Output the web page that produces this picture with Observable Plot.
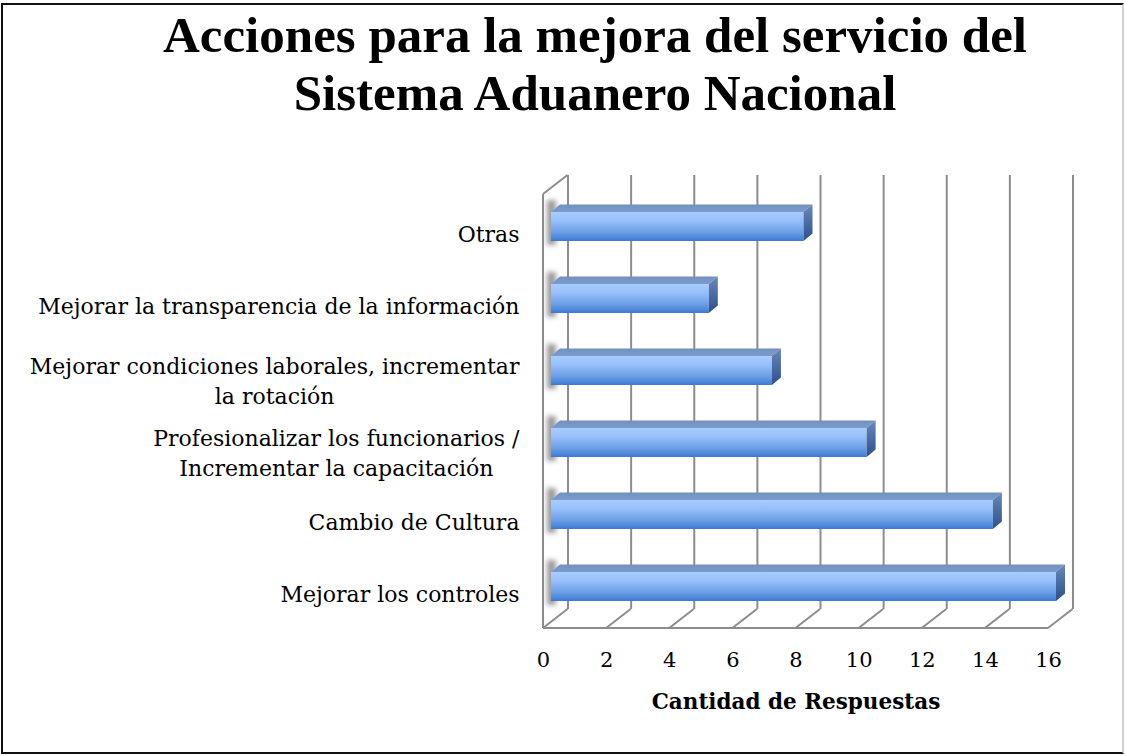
<!DOCTYPE html>
<html><head><meta charset="utf-8">
<script src="https://cdn.jsdelivr.net/npm/d3@7"></script>
<script src="https://cdn.jsdelivr.net/npm/@observablehq/plot@0.6"></script>
<style>
body{margin:0;background:#fff}
#wrap{position:relative;width:1125px;height:755px;overflow:hidden;background:#fff}
#border{position:absolute;left:1px;top:3px;width:1119px;height:747px;border:2px solid #111;border-right-color:#d0d0d0}
#title{position:absolute;left:95px;width:1000px;top:6px;text-align:center;font-weight:bold;font-size:51px;font-family:"Liberation Serif";line-height:58px;color:#000}
#chart{position:absolute;left:0;top:0}
</style></head><body>
<div id="wrap"><div id="border"></div><div id="chart"></div><div id="title"></div></div>
<script>
const titleLines = ["Acciones para la mejora del servicio del", "Sistema Aduanero Nacional"];
const categories = [
  "Otras",
  "Mejorar la transparencia de la información",
  "Mejorar condiciones laborales, incrementar\nla rotación",
  "Profesionalizar los funcionarios /\nIncrementar la capacitación",
  "Cambio de Cultura",
  "Mejorar los controles"
];
const values = [8, 5, 7, 10, 14, 16];
const xTicks = [0, 2, 4, 6, 8, 10, 12, 14, 16];
const axisTitle = "Cantidad de Respuestas";

document.getElementById("title").innerHTML = titleLines.join("<br>");

const data = categories.map((c, i) => ({cat: c, value: values[i]}));
const FONT = "DejaVu Serif";
const LABEL_SIZE = 22;
const gridColor = "#8c8c8c";
const DX = 24.5, DY = -19;          // wall depth
const BX = 8, BY = -8;              // bar front offset
const TX = 9, TY = -7.5;            // bar depth

const NS = "http://www.w3.org/2000/svg";
function el(name, attrs) {
  const e = document.createElementNS(NS, name);
  for (const k in attrs) e.setAttribute(k, attrs[k]);
  return e;
}

function defs() {
  const d = el("defs", {});
  const gf = el("linearGradient", {id: "gFront", x1: 0, y1: 0, x2: 0, y2: 1});
  [["0%", "#a9cdff"], ["35%", "#92bbf7"], ["70%", "#6c9de6"], ["100%", "#3c7bd3"]]
    .forEach(([o, c]) => gf.appendChild(el("stop", {offset: o, "stop-color": c})));
  const gs = el("linearGradient", {id: "gSide", x1: 0, y1: 0, x2: 0, y2: 1});
  [["0%", "#6888bd"], ["100%", "#2d5089"]]
    .forEach(([o, c]) => gs.appendChild(el("stop", {offset: o, "stop-color": c})));
  const gt = el("linearGradient", {id: "gTop", x1: 0, y1: 0, x2: 0, y2: 1});
  [["0%", "#7290c0"], ["100%", "#7c9bcd"]]
    .forEach(([o, c]) => gt.appendChild(el("stop", {offset: o, "stop-color": c})));
  const f = el("filter", {id: "blur", x: "-50%", y: "-50%", width: "200%", height: "200%"});
  f.appendChild(el("feGaussianBlur", {stdDeviation: 2.5}));
  d.append(gf, gs, gt, f);
  return d;
}

function frame3d(index, scales, values, dims) {
  const x = scales.x;
  const top = dims.marginTop, bottom = dims.height - dims.marginBottom;
  const g = el("g", {stroke: gridColor, "stroke-width": 2, fill: "none"});
  const X0 = x(xTicks[0]), X1 = x(xTicks[xTicks.length - 1]);
  const line = (x1, y1, x2, y2) => g.appendChild(el("line", {x1, y1, x2, y2}));
  for (const t of xTicks) line(x(t), bottom, x(t) + DX, bottom + DY);
  line(X0, bottom, X1, bottom);
  line(X0, top, X0, bottom);
  line(X0, top, X0 + DX, top + DY);
  return g;
}

function shadows(index, scales, values, dims) {
  const {x, y} = scales;
  const bw = y.bandwidth();
  const g = el("g", {filter: "url(#blur)", fill: "#666", "fill-opacity": 0.65});
  for (const d of data) {
    const y0 = y(d.cat) + BY;
    g.appendChild(el("rect", {x: x(0) + 4, y: y0 - 12, width: 9, height: bw + 16}));
  }
  return g;
}

function faces(index, scales, values, dims) {
  const {x, y} = scales;
  const bw = y.bandwidth();
  const g = el("g", {});
  for (const d of data) {
    const xa = x(0) + BX, xb = x(d.value) + BX;
    const yt = y(d.cat) + BY, yb = yt + bw;
    g.appendChild(el("polygon", {
      points: `${xa},${yt} ${xb},${yt} ${xb + TX},${yt + TY} ${xa + TX},${yt + TY}`,
      fill: "url(#gTop)"
    }));
    g.appendChild(el("polygon", {
      points: `${xb},${yt} ${xb + TX},${yt + TY} ${xb + TX},${yb + TY} ${xb},${yb}`,
      fill: "url(#gSide)"
    }));
  }
  return g;
}

// measure label widths for centred multi-line labels
const ctx = document.createElement("canvas").getContext("2d");
ctx.font = `${LABEL_SIZE}px "${FONT}"`;
const labelMarks = categories.map(c => {
  const lines = c.split("\n");
  if (lines.length === 1) {
    return Plot.text([c], {y: d => d, text: d => d, frameAnchor: "left", textAnchor: "end", dx: -24,
      fontSize: LABEL_SIZE, fontFamily: FONT, fill: "#000"});
  }
  const w = Math.max(...lines.map(l => ctx.measureText(l).width));
  return Plot.text([c], {y: d => d, text: d => d, frameAnchor: "left", textAnchor: "middle", dx: -24 - w / 2,
    fontSize: LABEL_SIZE, fontFamily: FONT, fill: "#000", lineHeight: 1.38});
});

const chart = Plot.plot({
  width: 1125,
  height: 755,
  marginTop: 194,
  marginBottom: 127,
  marginLeft: 543,
  marginRight: 77,
  style: {background: "transparent", overflow: "visible"},
  x: {domain: [0, 16], axis: null},
  y: {domain: categories, range: [197.4, 630.6], paddingInner: 0.598, paddingOuter: 0.299, axis: null},
  marks: [
    defs,
    Plot.ruleX(xTicks, {x: d => d, dx: DX, dy: DY, stroke: gridColor, strokeWidth: 2}),
    frame3d,
    shadows,
    Plot.barX(data, {x: "value", y: "cat", dx: BX, dy: BY, fill: "url(#gFront)"}),
    faces,
    ...labelMarks,
    Plot.text(xTicks, {x: d => d, text: d => String(d), frameAnchor: "bottom", dy: 38,
      fontSize: 21, fontFamily: FONT, fill: "#000"}),
    Plot.text([axisTitle], {text: d => d, frameAnchor: "bottom", dy: 80,
      fontSize: 21.5, fontWeight: "bold", fontFamily: FONT, fill: "#000"})
  ]
});
document.getElementById("chart").appendChild(chart);
</script>
</body></html>
